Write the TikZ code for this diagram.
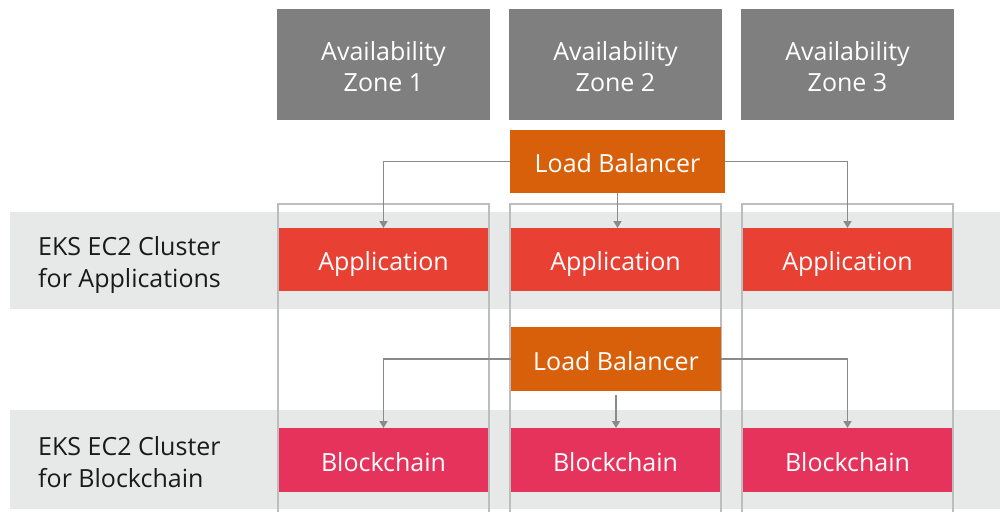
\documentclass[tikz,border=0pt]{standalone}
\usepackage{fontspec}
\setmainfont{Open Sans}
\usetikzlibrary{arrows.meta}
\definecolor{azgray}{HTML}{7F7F7F}
\definecolor{lborange}{HTML}{D9600B}
\definecolor{appred}{HTML}{E84033}
\definecolor{bcpink}{HTML}{E6335C}
\definecolor{bandgray}{HTML}{E7E8E8}
\definecolor{colline}{HTML}{BDBDBD}
\definecolor{arrowgray}{HTML}{8A8A8A}
\definecolor{labeltext}{HTML}{1A1A1A}
\tikzset{
  box/.style={draw=none, inner sep=0pt, outer sep=0pt, anchor=north west, text=white, align=center,
    font=\fontsize{25}{31.5}\selectfont},
  onebox/.style={box, text height=22pt, text depth=0pt},
  azbox/.style={box, fill=azgray, minimum width=213pt, minimum height=111pt, text height=54pt, text depth=0pt},
  lbbox/.style={onebox, fill=lborange, minimum height=63pt},
  appbox/.style={onebox, fill=appred, minimum width=209pt, minimum height=63pt},
  bcbox/.style={onebox, fill=bcpink, minimum width=209pt, minimum height=64pt},
  rowlabel/.style={anchor=base west, inner sep=0pt, text=labeltext, align=left, font=\fontsize{25}{32}\selectfont},
  colframe/.style={draw=colline, line width=2pt},
  conn/.style={draw=arrowgray, line width=1.6pt, -{Triangle[width=8pt,length=7pt]}}
}
\begin{document}
\begin{tikzpicture}[x=1pt,y=-1pt]
\useasboundingbox (0,0) rectangle (1000,511);
% bands
\fill[bandgray] (10,212) rectangle (1000,309);
\fill[bandgray] (10,410) rectangle (1000,509);
% column frames
\draw[colframe] (278,515) -- (278,204) -- (489,204) -- (489,515);
\draw[colframe] (510,515) -- (510,204) -- (721,204) -- (721,515);
\draw[colframe] (742,515) -- (742,204) -- (953,204) -- (953,515);
% zones
\node[azbox] (az1) at (277,9) {Availability\\Zone 1};
\node[azbox] (az2) at (509,9) {Availability\\Zone 2};
\node[azbox] (az3) at (741,9) {Availability\\Zone 3};
% row labels
\node[rowlabel] (rl1) at (38,287) {EKS EC2 Cluster\\for Applications};
\node[rowlabel] (rl2) at (38,487) {EKS EC2 Cluster\\for Blockchain};
% load balancers
\node[lbbox, minimum width=215pt] (lb1) at (510,130) {Load Balancer};
\node[lbbox, minimum width=210pt, minimum height=64pt] (lb2) at (511,327) {Load Balancer};
% applications
\node[appbox] (app1) at (279,228) {Application};
\node[appbox] (app2) at (511,228) {Application};
\node[appbox] (app3) at (743,228) {Application};
% blockchain
\node[bcbox] (bc1) at (279,428) {Blockchain};
\node[bcbox] (bc2) at (511,428) {Blockchain};
\node[bcbox] (bc3) at (743,428) {Blockchain};
% connectors
\draw[conn] (lb1.west) -| (app1.north);
\draw[conn] (lb1.east) -| (app3.north);
\draw[conn] (lb1.south) -- (lb1.south |- app2.north);
\draw[conn] (lb2.west) -| (app1.north |- bc1.north);
\draw[conn] (lb2.east) -| (app3.north |- bc3.north);
\draw[conn, line width=2.4pt, shorten <=4pt] (lb2.south) -- (lb2.south |- bc2.north);
\end{tikzpicture}
\end{document}
